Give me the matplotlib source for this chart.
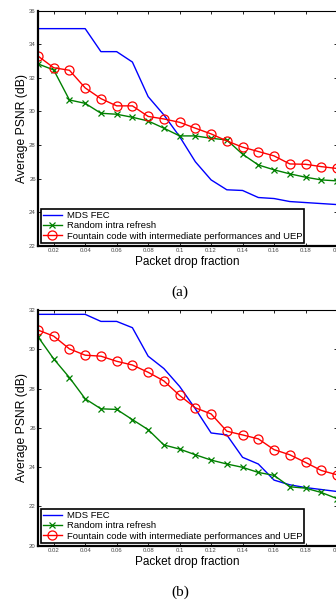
import numpy as np
import matplotlib
matplotlib.use('Agg')
import matplotlib.pyplot as plt

plt.rcParams['font.family'] = ['Liberation Sans', 'DejaVu Sans']

# packet drop fraction, same for every curve
drop = [0.01, 0.02, 0.03, 0.04, 0.05, 0.06, 0.07, 0.08, 0.09, 0.10,
        0.11, 0.12, 0.13, 0.14, 0.15, 0.16, 0.17, 0.18, 0.19, 0.20]

# panel (a)
mds_a = [34.93, 34.93, 34.93, 34.93, 33.56, 33.56, 32.94, 30.88, 29.79, 28.5,
         27.0, 25.92, 25.33, 25.29, 24.87, 24.81, 24.63, 24.57, 24.51, 24.45]
intra_a = [32.83, 32.47, 30.68, 30.48, 29.89, 29.83, 29.65, 29.43, 29.0, 28.54,
           28.54, 28.4, 28.3, 27.45, 26.81, 26.52, 26.28, 26.08, 25.92, 25.86]
fount_a = [33.3, 32.6, 32.45, 31.4, 30.76, 30.33, 30.33, 29.7, 29.55, 29.35,
           29.0, 28.66, 28.24, 27.87, 27.61, 27.35, 26.87, 26.85, 26.71, 26.6]

# panel (b)
mds_b = [31.78, 31.78, 31.78, 31.78, 31.42, 31.42, 31.1, 29.65, 29.02, 28.11,
         26.97, 25.74, 25.64, 24.5, 24.16, 23.34, 23.1, 22.96, 22.86, 22.76]
intra_b = [30.64, 29.51, 28.56, 27.48, 26.97, 26.94, 26.42, 25.91, 25.13, 24.92,
           24.63, 24.36, 24.16, 23.99, 23.73, 23.58, 23.0, 22.93, 22.71, 22.4]
fount_b = [30.98, 30.67, 30.02, 29.7, 29.65, 29.39, 29.2, 28.83, 28.39, 27.65,
           27.02, 26.71, 25.83, 25.64, 25.44, 24.89, 24.63, 24.24, 23.83, 23.61]

xticks = [0.02, 0.04, 0.06, 0.08, 0.1, 0.12, 0.14, 0.16, 0.18, 0.2]
xtick_labels = ['0.02', '0.04', '0.06', '0.08', '0.1', '0.12', '0.14', '0.16', '0.18', '0.2']

labels = ['MDS FEC', 'Random intra refresh',
          'Fountain code with intermediate performances and UEP']

fig = plt.figure(figsize=(3.36, 6.0), dpi=100)


def draw_panel(rect, mds, intra, fount, ylim, caption, xlabel_y, caption_y):
    ax = fig.add_axes(rect)
    ax.plot(drop, mds, color='#0000ff', lw=1.0, label=labels[0])
    ax.plot(drop, intra, color='#008000', lw=1.0, marker='x', ms=4,
            mew=0.9, label=labels[1])
    ax.plot(drop, fount, color='#ff0000', lw=1.0, marker='o', ms=6.5,
            mfc='none', mew=0.9, label=labels[2])
    ax.set_xlim(0.01, 0.2)
    ax.set_ylim(*ylim)
    ax.set_xticks(xticks)
    ax.set_xticklabels(xtick_labels)
    ax.set_yticks(np.arange(ylim[0], ylim[1] + 1, 2))
    ax.tick_params(direction='in', length=2.5, width=0.6, labelsize=4.3,
                   labelcolor='#444444', pad=1.5, top=True, right=True)
    for side in ['left', 'bottom']:
        ax.spines[side].set_linewidth(1.6)
    for side in ['top', 'right']:
        ax.spines[side].set_linewidth(0.8)
    ax.set_ylabel('Average PSNR (dB)', fontsize=8.7, labelpad=1)
    leg = ax.legend(loc='lower left', bbox_to_anchor=(0.009, 0.011),
                    borderaxespad=0, fontsize=6.8, fancybox=False,
                    edgecolor='black', framealpha=1, handlelength=2.0,
                    handletextpad=0.5, labelspacing=0.15, borderpad=0.25)
    leg.get_frame().set_linewidth(1.2)
    fig.text(187 / 336, xlabel_y, 'Packet drop fraction', fontsize=8.5,
             ha='center', va='center')
    fig.text(180 / 336, caption_y, caption, fontsize=11, ha='center',
             va='center', family='Liberation Serif')
    return ax


draw_panel([0.113, 0.5905, 0.89, 0.3917], mds_a, intra_a, fount_a,
           (22, 36), '(a)', 1 - 262 / 600, 1 - 292 / 600)
draw_panel([0.113, 0.0905, 0.89, 0.3928], mds_b, intra_b, fount_b,
           (20, 32), '(b)', 1 - 562 / 600, 1 - 592 / 600)

fig.savefig('out.png', dpi=100)
